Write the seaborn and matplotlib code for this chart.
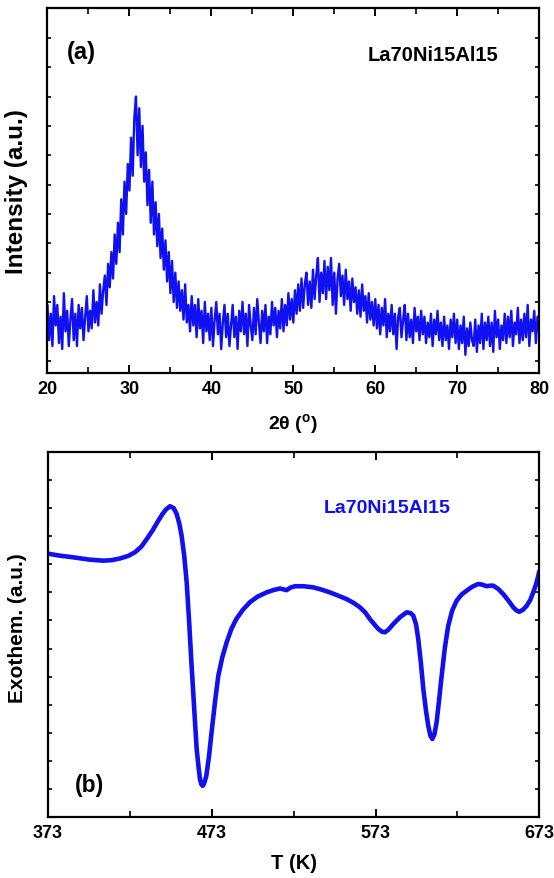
import numpy as np
import pandas as pd
import matplotlib
matplotlib.use("Agg")
import matplotlib.pyplot as plt
from matplotlib.ticker import MultipleLocator, FixedLocator, NullFormatter
import seaborn as sns

# ---------------- (a) XRD pattern: 2theta from 20 to 80 deg, 0.2 deg step ----------------
two_theta_start = 20.0
two_theta_step = 0.2
xrd_intensity = [
    1.9, 0.7, 1.6, 0.5, 2.2, 1.2, 1.9, 0.6, 1.5, 0.4,   # 20.0 - 21.8
    2.3, 1.0, 1.7, 0.5, 1.4, 2.1, 0.7, 1.6, 0.5, 1.9,   # 22.0 - 23.8
    1.1, 1.8, 0.7, 1.5, 2.2, 1.0, 1.7, 1.1, 2.4, 1.3,   # 24.0 - 25.8
    2.0, 1.2, 2.6, 1.6, 2.4, 2.9, 1.9, 3.3, 2.5, 3.7,   # 26.0 - 27.8
    2.8, 4.3, 3.3, 4.7, 3.7, 5.5, 4.3, 6.1, 5.0, 6.7,   # 28.0 - 29.8
    5.8, 7.6, 6.3, 8.3, 9.0, 7.0, 8.6, 6.6, 8.0, 6.1,   # 30.0 - 31.8
    7.1, 5.3, 6.5, 4.7, 6.1, 4.3, 5.4, 3.9, 5.0, 3.5,   # 32.0 - 33.8
    4.5, 3.1, 4.1, 2.7, 3.7, 2.3, 3.4, 2.0, 3.0, 1.8,   # 34.0 - 35.8
    2.7, 1.7, 2.4, 1.4, 2.6, 1.3, 1.9, 1.0, 2.2, 1.2,   # 36.0 - 37.8
    1.9, 0.8, 2.1, 1.1, 1.7, 0.6, 2.0, 1.0, 1.6, 0.7,   # 38.0 - 39.8
    1.8, 0.5, 1.4, 2.0, 0.9, 1.6, 0.4, 1.3, 1.9, 0.8,   # 40.0 - 41.8
    1.6, 0.5, 1.2, 1.9, 0.8, 1.5, 0.4, 1.7, 1.0, 2.0,   # 42.0 - 43.8
    0.9, 1.6, 0.5, 1.9, 1.2, 0.7, 1.8, 0.9, 2.1, 1.3,   # 44.0 - 45.8
    0.6, 1.7, 1.0, 1.9, 0.6, 1.5, 0.9, 2.0, 1.2, 1.8,   # 46.0 - 47.8
    0.8, 1.7, 1.1, 2.1, 1.0, 1.9, 1.2, 2.3, 1.4, 2.1,   # 48.0 - 49.8
    1.3, 2.4, 1.6, 2.6, 1.7, 2.8, 1.8, 2.6, 3.0, 1.9,   # 50.0 - 51.8
    2.7, 1.8, 3.1, 2.1, 2.9, 3.5, 2.0, 3.0, 2.3, 3.4,   # 52.0 - 53.8
    2.1, 3.2, 2.4, 3.5, 1.9, 3.0, 1.6, 2.8, 3.3, 2.2,   # 54.0 - 55.8
    2.9, 1.9, 3.1, 2.1, 2.7, 1.7, 2.8, 2.0, 2.5, 1.6,   # 56.0 - 57.8
    2.4, 1.5, 2.6, 1.7, 2.2, 1.3, 2.3, 1.4, 2.0, 1.2,   # 58.0 - 59.8
    2.1, 1.1, 1.9, 0.9, 1.8, 1.2, 2.1, 0.8, 1.6, 1.0,   # 60.0 - 61.8
    1.9, 0.9, 1.6, 0.4, 1.5, 1.8, 0.8, 1.4, 1.9, 0.7,   # 62.0 - 63.8
    1.6, 0.8, 1.4, 0.6, 1.8, 1.0, 1.5, 0.7, 1.7, 0.9,   # 64.0 - 65.8
    1.5, 0.6, 1.3, 0.8, 1.6, 0.5, 1.4, 0.9, 1.7, 0.7,   # 66.0 - 67.8
    1.3, 0.5, 1.5, 0.7, 1.2, 0.4, 1.4, 0.8, 1.6, 0.6,   # 68.0 - 69.8
    1.4, 0.4, 1.2, 0.6, 1.5, 0.2, 1.1, 0.5, 1.3, 0.7,   # 70.0 - 71.8
    0.5, 1.4, 0.3, 1.2, 0.6, 1.6, 0.4, 1.3, 0.7, 1.5,   # 72.0 - 73.8
    0.5, 1.3, 0.3, 1.7, 0.8, 1.4, 0.4, 1.2, 0.7, 1.6,   # 74.0 - 75.8
    0.6, 1.5, 0.8, 1.7, 0.5, 1.3, 0.9, 1.8, 0.6, 1.4,   # 76.0 - 77.8
    0.7, 1.6, 0.8, 1.9, 0.5, 1.4, 1.0, 1.7, 0.6, 1.5,   # 78.0 - 79.8
    1.0,                                                # 80.0
]
two_theta = [round(two_theta_start + two_theta_step * i, 1) for i in range(len(xrd_intensity))]

# ---------------- (b) DSC trace ----------------
dsc_temperature = [
    373.0, 380.0, 388.4, 398.0, 406.8, 412.0, 417.0, 422.0, 426.1, 430.0,
    433.3, 437.0, 440.3, 443.0, 445.0, 447.5, 449.8, 451.6, 453.2, 454.6,
    456.2, 457.7, 459.2, 460.7, 462.3, 463.8, 465.0, 465.8, 466.7, 467.5,
    468.4, 469.7, 471.3, 472.9, 475.0, 477.0, 479.5, 482.1, 485.0, 488.0,
    492.0, 496.3, 501.0, 506.5, 510.5, 514.7, 518.7, 521.0, 523.8, 529.0,
    535.0, 540.0, 545.2, 550.0, 555.4, 559.5, 563.5, 566.8, 569.6, 572.3,
    574.7, 577.0, 578.8, 581.0, 583.8, 588.0, 592.0, 594.5, 596.1, 597.8,
    599.1, 600.7, 602.2, 603.8, 605.2, 606.5, 607.7, 609.0, 610.3, 611.8,
    613.4, 615.4, 617.4, 619.8, 622.5, 625.5, 628.6, 632.0, 635.7, 638.0,
    640.9, 643.0, 644.9, 648.0, 651.0, 654.0, 657.1, 659.0, 660.8, 663.0,
    665.3, 667.5, 669.3, 671.0, 672.4, 673.0,
]
dsc_signal = [
    9.38, 9.31, 9.25, 9.17, 9.13, 9.15, 9.21, 9.30, 9.43, 9.63,
    9.90, 10.22, 10.55, 10.80, 10.95, 11.07, 11.00, 10.79, 10.45, 10.02,
    9.30, 8.36, 6.95, 5.39, 3.85, 2.42, 1.75, 1.35, 1.16, 1.11,
    1.20, 1.47, 2.15, 3.02, 4.10, 5.03, 5.70, 6.22, 6.70, 7.05,
    7.38, 7.65, 7.85, 8.00, 8.08, 8.14, 8.08, 8.17, 8.22, 8.22,
    8.18, 8.10, 8.00, 7.89, 7.76, 7.63, 7.47, 7.28, 7.05, 6.86,
    6.70, 6.60, 6.58, 6.68, 6.87, 7.12, 7.29, 7.26, 7.17, 6.85,
    6.34, 5.50, 4.56, 3.80, 3.25, 2.90, 2.78, 2.95, 3.37, 4.15,
    5.03, 6.05, 6.81, 7.35, 7.70, 7.92, 8.06, 8.20, 8.30, 8.28,
    8.22, 8.24, 8.24, 8.12, 7.94, 7.72, 7.47, 7.36, 7.31, 7.38,
    7.52, 7.73, 8.00, 8.28, 8.59, 8.75,
]

xrd_df = pd.DataFrame({"two_theta": two_theta, "intensity": xrd_intensity})
dsc_df = pd.DataFrame({"T": dsc_temperature, "signal": dsc_signal})

sns.set_theme(style="white")
plt.rcParams["font.family"] = ["Liberation Sans", "DejaVu Sans"]
plt.rcParams["font.weight"] = "bold"
plt.rcParams["text.color"] = "black"
plt.rcParams["axes.labelcolor"] = "black"
plt.rcParams["xtick.color"] = "black"
plt.rcParams["ytick.color"] = "black"
plt.rcParams["mathtext.fontset"] = "custom"
plt.rcParams["mathtext.rm"] = "Liberation Sans:bold"
plt.rcParams["mathtext.bf"] = "Liberation Sans:bold"
plt.rcParams["mathtext.it"] = "Liberation Sans:bold"

line_blue = "#1010f0"

fig = plt.figure(figsize=(5.54, 8.79), dpi=100)
ax_a = fig.add_axes([0.0857, 0.5745, 0.8875, 0.4147])
ax_b = fig.add_axes([0.0866, 0.0694, 0.8868, 0.4152])

# ---- panel (a) ----
sns.lineplot(data=xrd_df, x="two_theta", y="intensity", ax=ax_a, color=line_blue,
             linewidth=1.7, sort=False, estimator=None)
ax_a.set_xlim(20, 80)
ax_a.set_ylim(-0.42, 12.0)
ax_a.xaxis.set_major_locator(MultipleLocator(10))
ax_a.xaxis.set_minor_locator(MultipleLocator(5))
ax_a.yaxis.set_major_locator(FixedLocator(list(range(0, 12))))
ax_a.yaxis.set_major_formatter(NullFormatter())
ax_a.set_xlabel("2θ ($^{\\rm o}$)", fontsize=14, fontweight="bold", labelpad=10,
                color="black")
ax_a.set_ylabel("Intensity (a.u.)", fontsize=17.5, fontweight="bold", color="black")
ax_a.yaxis.set_label_coords(-0.04, 0.5)
ax_a.text(0.04, 0.883, "(a)", transform=ax_a.transAxes, fontsize=17,
          fontweight="bold", color="black", ha="left", va="center")
ax_a.text(0.784, 0.875, "La70Ni15Al15", transform=ax_a.transAxes, fontsize=14.5,
          fontweight="bold", color="black", ha="center", va="center")

# ---- panel (b) ----
sns.lineplot(data=dsc_df, x="T", y="signal", ax=ax_b, color=line_blue,
             linewidth=3.3, sort=False, estimator=None)
ax_b.set_xlim(373, 673)
ax_b.set_ylim(0, 13)
ax_b.xaxis.set_major_locator(FixedLocator([373, 473, 573, 673]))
ax_b.xaxis.set_minor_locator(FixedLocator([423, 523, 623]))
ax_b.yaxis.set_major_locator(FixedLocator(list(range(1, 13))))
ax_b.yaxis.set_major_formatter(NullFormatter())
ax_b.set_xlabel("T (K)", fontsize=14.5, fontweight="bold", labelpad=9, color="black")
ax_b.set_ylabel("Exothem. (a.u.)", fontsize=15, fontweight="bold", color="black")
ax_b.yaxis.set_label_coords(-0.043, 0.52)
ax_b.text(0.691, 0.849, "La70Ni15Al15", transform=ax_b.transAxes, fontsize=14,
          fontweight="bold", color=line_blue, ha="center", va="center")
ax_b.text(0.055, 0.09, "(b)", transform=ax_b.transAxes, fontsize=16.5,
          fontweight="bold", color="black", ha="left", va="center")

for ax in (ax_a, ax_b):
    for side in ("left", "right", "top", "bottom"):
        ax.spines[side].set_visible(True)
        ax.spines[side].set_color("black")
        ax.spines[side].set_linewidth(1.6)
    ax.tick_params(axis="x", which="major", direction="in", length=6, width=1.4,
                   top=True, bottom=True, labelsize=13, pad=5, colors="black")
    ax.tick_params(axis="x", which="minor", direction="in", length=4, width=1.2,
                   top=True, bottom=True, colors="black")
    ax.tick_params(axis="y", which="major", direction="in", length=3, width=1.2,
                   left=True, right=True, labelleft=False, colors="black")
    for lbl in ax.get_xticklabels():
        lbl.set_fontweight("bold")
    ax.set_facecolor("white")

fig.savefig("out.png", dpi=100, facecolor="white")
